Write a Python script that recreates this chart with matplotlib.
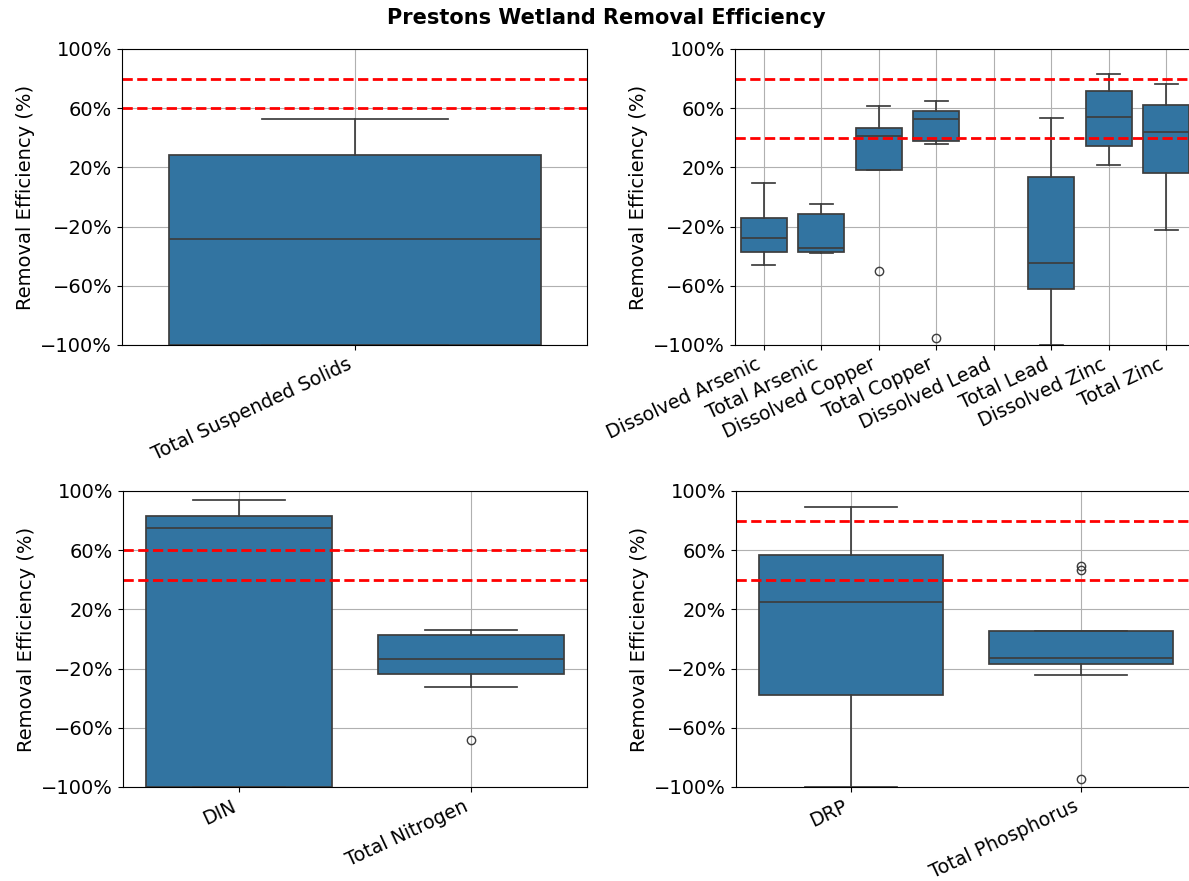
import matplotlib
matplotlib.use("Agg")
import matplotlib.pyplot as plt
from matplotlib.ticker import FuncFormatter

FIG_W, FIG_H = 1189, 881
BOX_COLOR = "#3274a1"
LINE_COLOR = "#3d3d3d"

# sediment
tss_names = ["Total Suspended Solids"]
tss_whislo = [-100]
tss_q1 = [-100]
tss_med = [-28.6]
tss_q3 = [28.6]
tss_whishi = [52.9]
tss_fliers = [[]]
tss_targets = [80, 60]

# metals (no dissolved lead results -> None)
metal_names = ["Dissolved Arsenic", "Total Arsenic", "Dissolved Copper", "Total Copper",
               "Dissolved Lead", "Total Lead", "Dissolved Zinc", "Total Zinc"]
metal_whislo = [-45.7, -38.0, 18.4, 36.0, None, -100, 21.8, -22.2]
metal_q1 = [-37.1, -37.3, 18.4, 37.8, None, -62.3, 34.4, 15.9]
metal_med = [-27.4, -34.2, 41.4, 52.4, None, -44.8, 53.8, 43.6]
metal_q3 = [-14.1, -11.4, 46.3, 58.3, None, 13.2, 71.6, 62.1]
metal_whishi = [9.4, -4.4, 61.7, 64.6, None, 53.3, 82.9, 76.6]
metal_fliers = [[], [], [-50.2], [-95.0], [], [], [], []]
metal_targets = [80, 40]

# nitrogen
n_names = ["DIN", "Total Nitrogen"]
n_whislo = [-100, -32.3]
n_q1 = [-100, -23.5]
n_med = [74.8, -13.4]
n_q3 = [83.4, 2.8]
n_whishi = [93.7, 6.4]
n_fliers = [[], [-68.3]]
n_targets = [60, 40]

# phosphorus
p_names = ["DRP", "Total Phosphorus"]
p_whislo = [-100, -24.4]
p_q1 = [-37.5, -16.8]
p_med = [24.9, -12.9]
p_q3 = [56.8, 5.7]
p_whishi = [89.0, 5.7]
p_fliers = [[], [49.2, 46.6, -94.8]]
p_targets = [80, 40]


def pct(v, pos):
    return f"{v:.0f}%".replace("-", "\u2212")


def draw_panel(ax, names, whislo, q1, med, q3, whishi, fliers, targets):
    stats = []
    positions = []
    for i in range(len(names)):
        if med[i] is None:
            continue
        stats.append(dict(whislo=whislo[i], q1=q1[i], med=med[i], q3=q3[i],
                          whishi=whishi[i], fliers=fliers[i]))
        positions.append(i)
    ax.bxp(stats, positions=positions, widths=0.8, capwidths=0.4,
           patch_artist=True, showfliers=True,
           boxprops=dict(facecolor=BOX_COLOR, edgecolor=LINE_COLOR, linewidth=1.25),
           medianprops=dict(color=LINE_COLOR, linewidth=1.25),
           whiskerprops=dict(color=LINE_COLOR, linewidth=1.25),
           capprops=dict(color=LINE_COLOR, linewidth=1.25),
           flierprops=dict(marker="o", markerfacecolor="none",
                           markeredgecolor=LINE_COLOR, markersize=6))
    for t in targets:
        ax.axhline(t, color="red", linestyle="--", linewidth=2)
    ax.set_xlim(-0.5, len(names) - 0.5)
    ax.set_ylim(-100, 100)
    ax.set_yticks([-100, -60, -20, 20, 60, 100])
    ax.yaxis.set_major_formatter(FuncFormatter(pct))
    ax.set_xticks(range(len(names)))
    ax.set_xticklabels(names, rotation=25, ha="right", fontsize=13.7)
    ax.tick_params(axis="y", labelsize=14)
    ax.set_ylabel("Removal Efficiency (%)", fontsize=14)
    ax.grid(True, color="#b0b0b0", linewidth=0.8)
    ax.set_axisbelow(True)


def px_axes(fig, left, top, right, bottom):
    return fig.add_axes([left / FIG_W, 1 - bottom / FIG_H,
                         (right - left) / FIG_W, (bottom - top) / FIG_H])


fig = plt.figure(figsize=(FIG_W / 100, FIG_H / 100), dpi=100)

ax1 = px_axes(fig, 122, 49, 587, 345)
ax2 = px_axes(fig, 735, 49, 1195, 345)
ax3 = px_axes(fig, 123, 491, 587, 787)
ax4 = px_axes(fig, 736, 491, 1196, 787)

draw_panel(ax1, tss_names, tss_whislo, tss_q1, tss_med, tss_q3, tss_whishi, tss_fliers, tss_targets)
draw_panel(ax2, metal_names, metal_whislo, metal_q1, metal_med, metal_q3, metal_whishi, metal_fliers, metal_targets)
draw_panel(ax3, n_names, n_whislo, n_q1, n_med, n_q3, n_whishi, n_fliers, n_targets)
draw_panel(ax4, p_names, p_whislo, p_q1, p_med, p_q3, p_whishi, p_fliers, p_targets)

fig.suptitle("Prestons Wetland Removal Efficiency", fontsize=15, fontweight="bold",
             x=606 / FIG_W, y=1 - 18 / FIG_H, va="center")

fig.savefig("out.png", dpi=100)
